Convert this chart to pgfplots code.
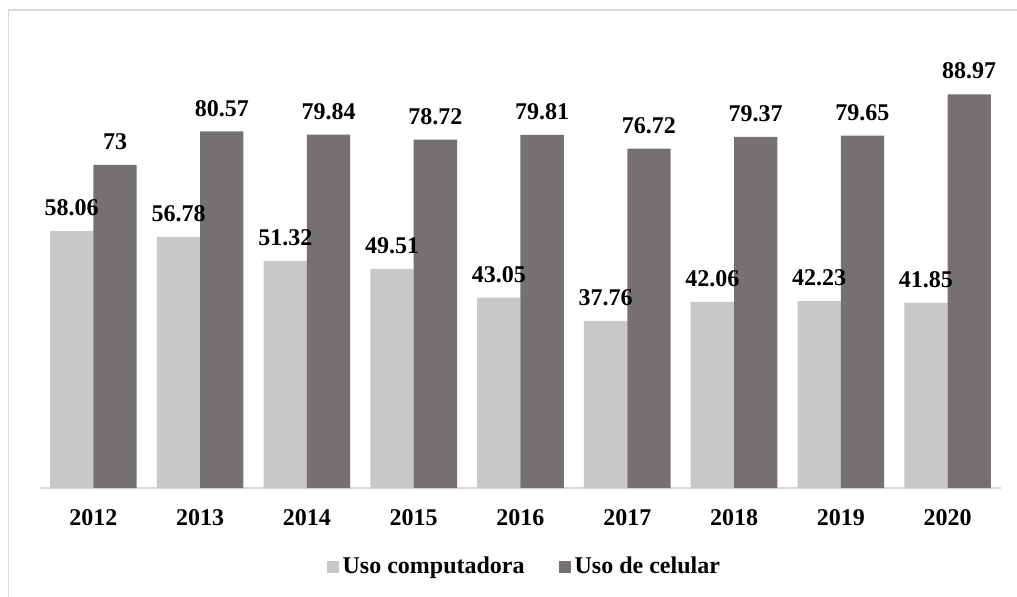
\documentclass[border=0pt]{standalone}
\usepackage{fontspec}
\setmainfont{Liberation Serif}
\usepackage{pgfplots}
\pgfplotsset{compat=1.18}

\definecolor{compgray}{HTML}{C8C8C8}
\definecolor{celgray}{HTML}{767171}
\definecolor{framegray}{HTML}{D9D9D9}
\newcommand\lbl{\fontsize{12}{14}\selectfont\bfseries}

\begin{document}
\begin{tikzpicture}
\begin{axis}[
  scale only axis,
  width=480.5pt, height=221.25pt,
  xmin=-0.5, xmax=8.5, ymin=0, ymax=100,
  axis x line=bottom, axis y line=none,
  x axis line style={draw=framegray, line width=0.8pt, -},
  xtick={0,...,8},
  xticklabels={2012,2013,2014,2015,2016,2017,2018,2019,2020},
  major tick length=0pt,
  xticklabel style={font=\lbl, yshift=-7pt},
  ytick=\empty,
  ybar=0pt, bar width=21.65pt,
  clip=false,
  point meta=explicit symbolic,
  nodes near coords,
  every node near coord/.append style={font=\lbl, text=black, yshift=4pt},
  legend columns=2,
  legend style={at={(0.505,-0.1785)}, anchor=center, draw=none, font=\lbl,
    /tikz/every even column/.append style={column sep=15pt}},
  legend image code/.code={\fill[#1] (0pt,-3pt) rectangle (6pt,3pt);},
]
\addplot[fill=compgray, draw=none] coordinates {
  (0,58.06) [58.06] (1,56.78) [56.78] (2,51.32) [51.32]
  (3,49.51) [49.51] (4,43.05) [43.05] (5,37.76) [37.76]
  (6,42.06) [42.06] (7,42.23) [42.23] (8,41.85) [41.85]
};
\addlegendentry{Uso computadora}
\addplot[fill=celgray, draw=none] coordinates {
  (0,73) [73] (1,80.57) [80.57] (2,79.84) [79.84]
  (3,78.72) [78.72] (4,79.81) [79.81] (5,76.72) [76.72]
  (6,79.37) [79.37] (7,79.65) [79.65] (8,88.97) [88.97]
};
\addlegendentry{Uso de celular}
\end{axis}
\draw[framegray, line width=0.8pt] (-15.65pt,-70pt) -- (-15.65pt,239pt) -- (500pt,239pt);
\pgfresetboundingbox
\useasboundingbox (-20pt,-54pt) rectangle (488.5pt,244pt);
\end{tikzpicture}
\end{document}
